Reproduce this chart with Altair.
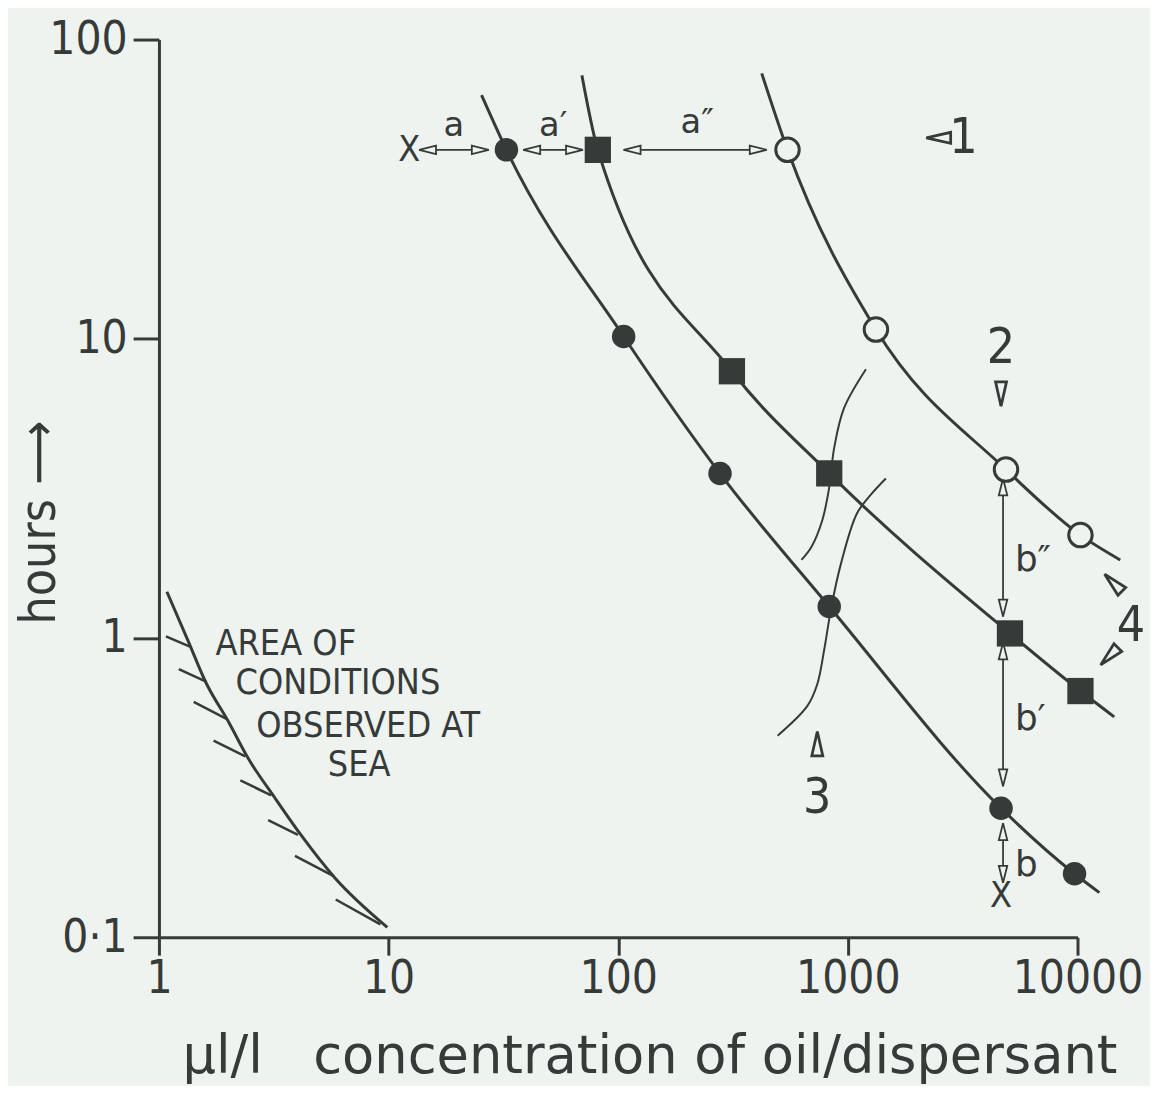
import altair as alt
import pandas as pd

INK = "#363b39"
BG = "#eef3f0"
FONT_C = "DejaVu Sans Condensed, DejaVu Sans, sans-serif"
FONT = "DejaVu Sans, sans-serif"

# ---------------- data ----------------
# filled circles (series 1)
circ_x = [32.6, 105.6, 277.5, 829.5, 4645, 9705]
circ_y = [42.8, 10.18, 3.546, 1.274, 0.270, 0.163]
circ_line_x = [25.4, 32.6, 105.6, 277.5, 829.5, 4645, 9705, 12450]
circ_line_y = [65.2, 42.8, 10.18, 3.546, 1.274, 0.270, 0.163, 0.141]

# filled squares (series 2)
sq_x = [81.5, 312.7, 829.5, 5080, 10300]
sq_y = [42.8, 7.79, 3.55, 1.036, 0.665]
sq_line_x = [69.5, 81.5, 312.7, 829.5, 5080, 10300, 14450]
sq_line_y = [75.9, 42.8, 7.79, 3.55, 1.036, 0.665, 0.545]

# open circles (series 3)
open_x = [546, 1325, 4882, 10300]
open_y = [42.8, 10.74, 3.656, 2.208]
open_line_x = [421.6, 546, 1325, 4882, 10300, 15350]
open_line_y = [77.1, 42.8, 10.74, 3.656, 2.208, 1.824]

# thin arcs (marker 3)
arcL_x = [628, 693.6, 773.9, 829.5, 872, 963, 1199]
arcL_y = [1.824, 2.015, 2.476, 3.187, 4.326, 5.872, 7.91]
arcR_x = [494.5, 666.4, 736.3, 789.4, 846.4, 935, 1096.5, 1273, 1464]
arcR_y = [0.4717, 0.593, 0.702, 0.917, 1.264, 1.783, 2.612, 3.044, 3.414]

# boundary of conditions observed at sea, with its hatching
sea_x = [1.083, 1.348, 1.597, 2.008, 2.450, 3.206, 4.153, 5.828, 9.876]
sea_y = [1.428, 0.967, 0.713, 0.525, 0.3957, 0.2914, 0.2197, 0.1581, 0.1079]
hatch_x1 = [1.072, 1.22, 1.417, 1.729, 2.263, 2.99, 3.912, 5.886]
hatch_y1 = [1.013, 0.787, 0.6115, 0.454, 0.3344, 0.2463, 0.1871, 0.1337]
hatch_x2 = [1.389, 1.613, 1.968, 2.378, 3.082, 4.031, 5.713, 9.21]
hatch_y2 = [0.931, 0.713, 0.537, 0.402, 0.298, 0.2197, 0.1606, 0.1104]

# horizontal double arrows a, a', a''
ha_x1 = [13.58, 38.6, 105.6]
ha_x2 = [27.3, 70.2, 443]
ha_y = [42.8, 42.8, 42.8]
ha_lab = ["a", "a\u2032", "a\u2033"]
ha_lab_x = [19.24, 52.1, 220.7]
ha_lab_y = [51.4, 51.4, 52.6]

# vertical double arrows b'', b', b
va_x = [4740, 4740, 4740]
va_y1 = [3.414, 0.967, 0.2407]
va_y2 = [1.18, 0.3195, 0.1522]
va_lab = ["b\u2033", "b\u2032", "b"]
va_lab_x = [5340, 5340, 5340]
va_lab_y = [1.824, 0.537, 0.1747]

# X marks
xm_x = [12.3, 4645]
xm_y = [42.8, 0.1378]

# numbered markers 1-4 with wedges
num_lab = ["1", "2", "3", "4"]
num_x = [3183, 4645, 736, 17100]
num_y = [46.95, 9.29, 0.2914, 1.093]
wedge_x = [2481, 4645, 736, 14310, 13750]
wedge_y = [46.95, 6.537, 0.4437, 1.530, 0.869]
wedge_ang = [270, 180, 0, 315, 225]

# area text
area_lines = ["AREA OF", "CONDITIONS", "OBSERVED AT", "SEA"]
area_x = [1.764, 2.153, 2.653, 5.435]
area_y = [0.953, 0.707, 0.509, 0.375]

x_ticks = [1, 10, 100, 1000, 10000]
y_ticks = [0.1, 1, 10, 100]

# ---------------- encodings ----------------
xscale = alt.Scale(type="log", domain=[1, 10000])
yscale = alt.Scale(type="log", domain=[0.1, 100])
xaxis = alt.Axis(
    values=x_ticks, labelExpr="format(datum.value, 'd')", grid=False,
    domainColor=INK, domainWidth=3, tickColor=INK, tickWidth=3, tickSize=18,
    labelFont=FONT_C, labelFontSize=46, labelColor=INK, labelPadding=2,
    labelFlush=False, labelOverlap=False,
    title="\u03bcl/l\u00a0\u00a0 concentration of oil/dispersant",
    titleFont=FONT, titleFontSize=53, titleFontWeight="normal", titleColor=INK,
    titleX=494, titleY=120, titleAlign="center", titleBaseline="middle",
)
yaxis = alt.Axis(
    values=y_ticks,
    labelExpr="datum.value == 0.1 ? '0\u00b71' : format(datum.value, 'd')",
    grid=False, domainColor=INK, domainWidth=3, tickColor=INK, tickWidth=3,
    tickSize=26, labelFont=FONT_C, labelFontSize=46, labelColor=INK,
    labelPadding=6, labelFlush=False, labelOverlap=False, labelBaseline="middle",
    title="hours \u27f6", titleFont=FONT_C, titleFontSize=50, titleFontWeight="normal",
    titleColor=INK, titleX=-120, titleY=486, titleAngle=270,
    titleAlign="center", titleBaseline="middle",
)


def X(f="x"):
    return alt.X(f"{f}:Q", scale=xscale, axis=xaxis)


def Y(f="y"):
    return alt.Y(f"{f}:Q", scale=yscale, axis=yaxis)


def series_df(name, xs, ys):
    return pd.DataFrame({"s": name, "x": xs, "y": ys, "o": range(len(xs))})


lines_df = pd.concat([
    series_df("c", circ_line_x, circ_line_y),
    series_df("q", sq_line_x, sq_line_y),
    series_df("o", open_line_x, open_line_y),
])
arcs_df = pd.concat([
    series_df("L", arcL_x, arcL_y),
    series_df("R", arcR_x, arcR_y),
])
sea_df = series_df("sea", sea_x, sea_y)
hatch_df = pd.DataFrame({"x": hatch_x1, "y": hatch_y1, "x2": hatch_x2, "y2": hatch_y2})

curves = alt.Chart(lines_df).mark_line(
    interpolate="monotone", color=INK, strokeWidth=3
).encode(x=X(), y=Y(), detail="s:N", order="o:Q")

arcs = alt.Chart(arcs_df).mark_line(
    interpolate="catmull-rom", color=INK, strokeWidth=2
).encode(x=X(), y=Y(), detail="s:N", order="o:Q")

sea = alt.Chart(sea_df).mark_line(
    interpolate="monotone", color=INK, strokeWidth=3
).encode(x=X(), y=Y(), order="o:Q")

hatches = alt.Chart(hatch_df).mark_rule(color=INK, strokeWidth=2.5).encode(
    x=X(), y=Y(), x2="x2:Q", y2="y2:Q"
)

# arrows
h_df = pd.DataFrame({"x": ha_x1, "x2": ha_x2, "y": ha_y})
v_df = pd.DataFrame({"x": va_x, "y": va_y1, "y2": va_y2})
h_shafts = alt.Chart(h_df).mark_rule(color=INK, strokeWidth=1.8).encode(
    x=X(), x2="x2:Q", y=Y())
v_shafts = alt.Chart(v_df).mark_rule(color=INK, strokeWidth=1.8).encode(
    x=X(), y=Y(), y2="y2:Q")

heads = pd.DataFrame({
    "x": ha_x1 + ha_x2 + va_x + va_x,
    "y": ha_y + ha_y + va_y1 + va_y2,
    "ang": [270] * 3 + [90] * 3 + [0] * 3 + [180] * 3,
})
HEAD = "M0,0 L0.5,2 L-0.5,2 Z"
arrowheads = alt.Chart(heads).mark_point(
    shape=HEAD, filled=True, fill=BG, stroke=INK, strokeWidth=1.8, size=290, opacity=1
).encode(x=X(), y=Y(), angle=alt.Angle("ang:Q", scale=None))

# markers
circ_pts = alt.Chart(pd.DataFrame({"x": circ_x, "y": circ_y})).mark_circle(
    size=560, color=INK, opacity=1).encode(x=X(), y=Y())
sq_pts = alt.Chart(pd.DataFrame({"x": sq_x, "y": sq_y})).mark_square(
    size=700, color=INK, opacity=1).encode(x=X(), y=Y())
open_pts = alt.Chart(pd.DataFrame({"x": open_x, "y": open_y})).mark_point(
    shape="circle", filled=True, fill=BG, stroke=INK, strokeWidth=3, size=560, opacity=1
).encode(x=X(), y=Y())

WEDGE = "M0,-1 L0.45,1 L-0.45,1 Z"
wedges = alt.Chart(pd.DataFrame({"x": wedge_x, "y": wedge_y, "ang": wedge_ang})).mark_point(
    shape=WEDGE, filled=True, fill=BG, stroke=INK, strokeWidth=2.8, size=600, opacity=1
).encode(x=X(), y=Y(), angle=alt.Angle("ang:Q", scale=None))


# texts
def text_layer(xs, ys, labels, size, font, align="center"):
    df = pd.DataFrame({"x": xs, "y": ys, "t": labels})
    return alt.Chart(df).mark_text(
        font=font, fontSize=size, color=INK, align=align, baseline="middle"
    ).encode(x=X(), y=Y(), text="t:N")


num_text = text_layer(num_x, num_y, num_lab, 50, FONT_C)
a_text = text_layer(ha_lab_x, ha_lab_y, ha_lab, 34, FONT)
b_text = text_layer(va_lab_x, va_lab_y, va_lab, 36, FONT, align="left")
x_text = text_layer(xm_x, xm_y, ["X", "X"], 36, FONT_C)
area_text = text_layer(area_x, area_y, area_lines, 36, FONT_C, align="left")

chart = alt.layer(
    sea, hatches, curves, arcs, h_shafts, v_shafts, arrowheads,
    circ_pts, sq_pts, open_pts, wedges,
    num_text, a_text, b_text, x_text, area_text,
).properties(
    width=925, height=904,
    autosize=alt.AutoSizeParams(type="none"),
    padding={"left": 152, "top": 28, "right": 73, "bottom": 146},
    background=BG,
).configure_view(stroke=None)

chart.save("out.html", embed_options={"renderer": "svg", "actions": False})
